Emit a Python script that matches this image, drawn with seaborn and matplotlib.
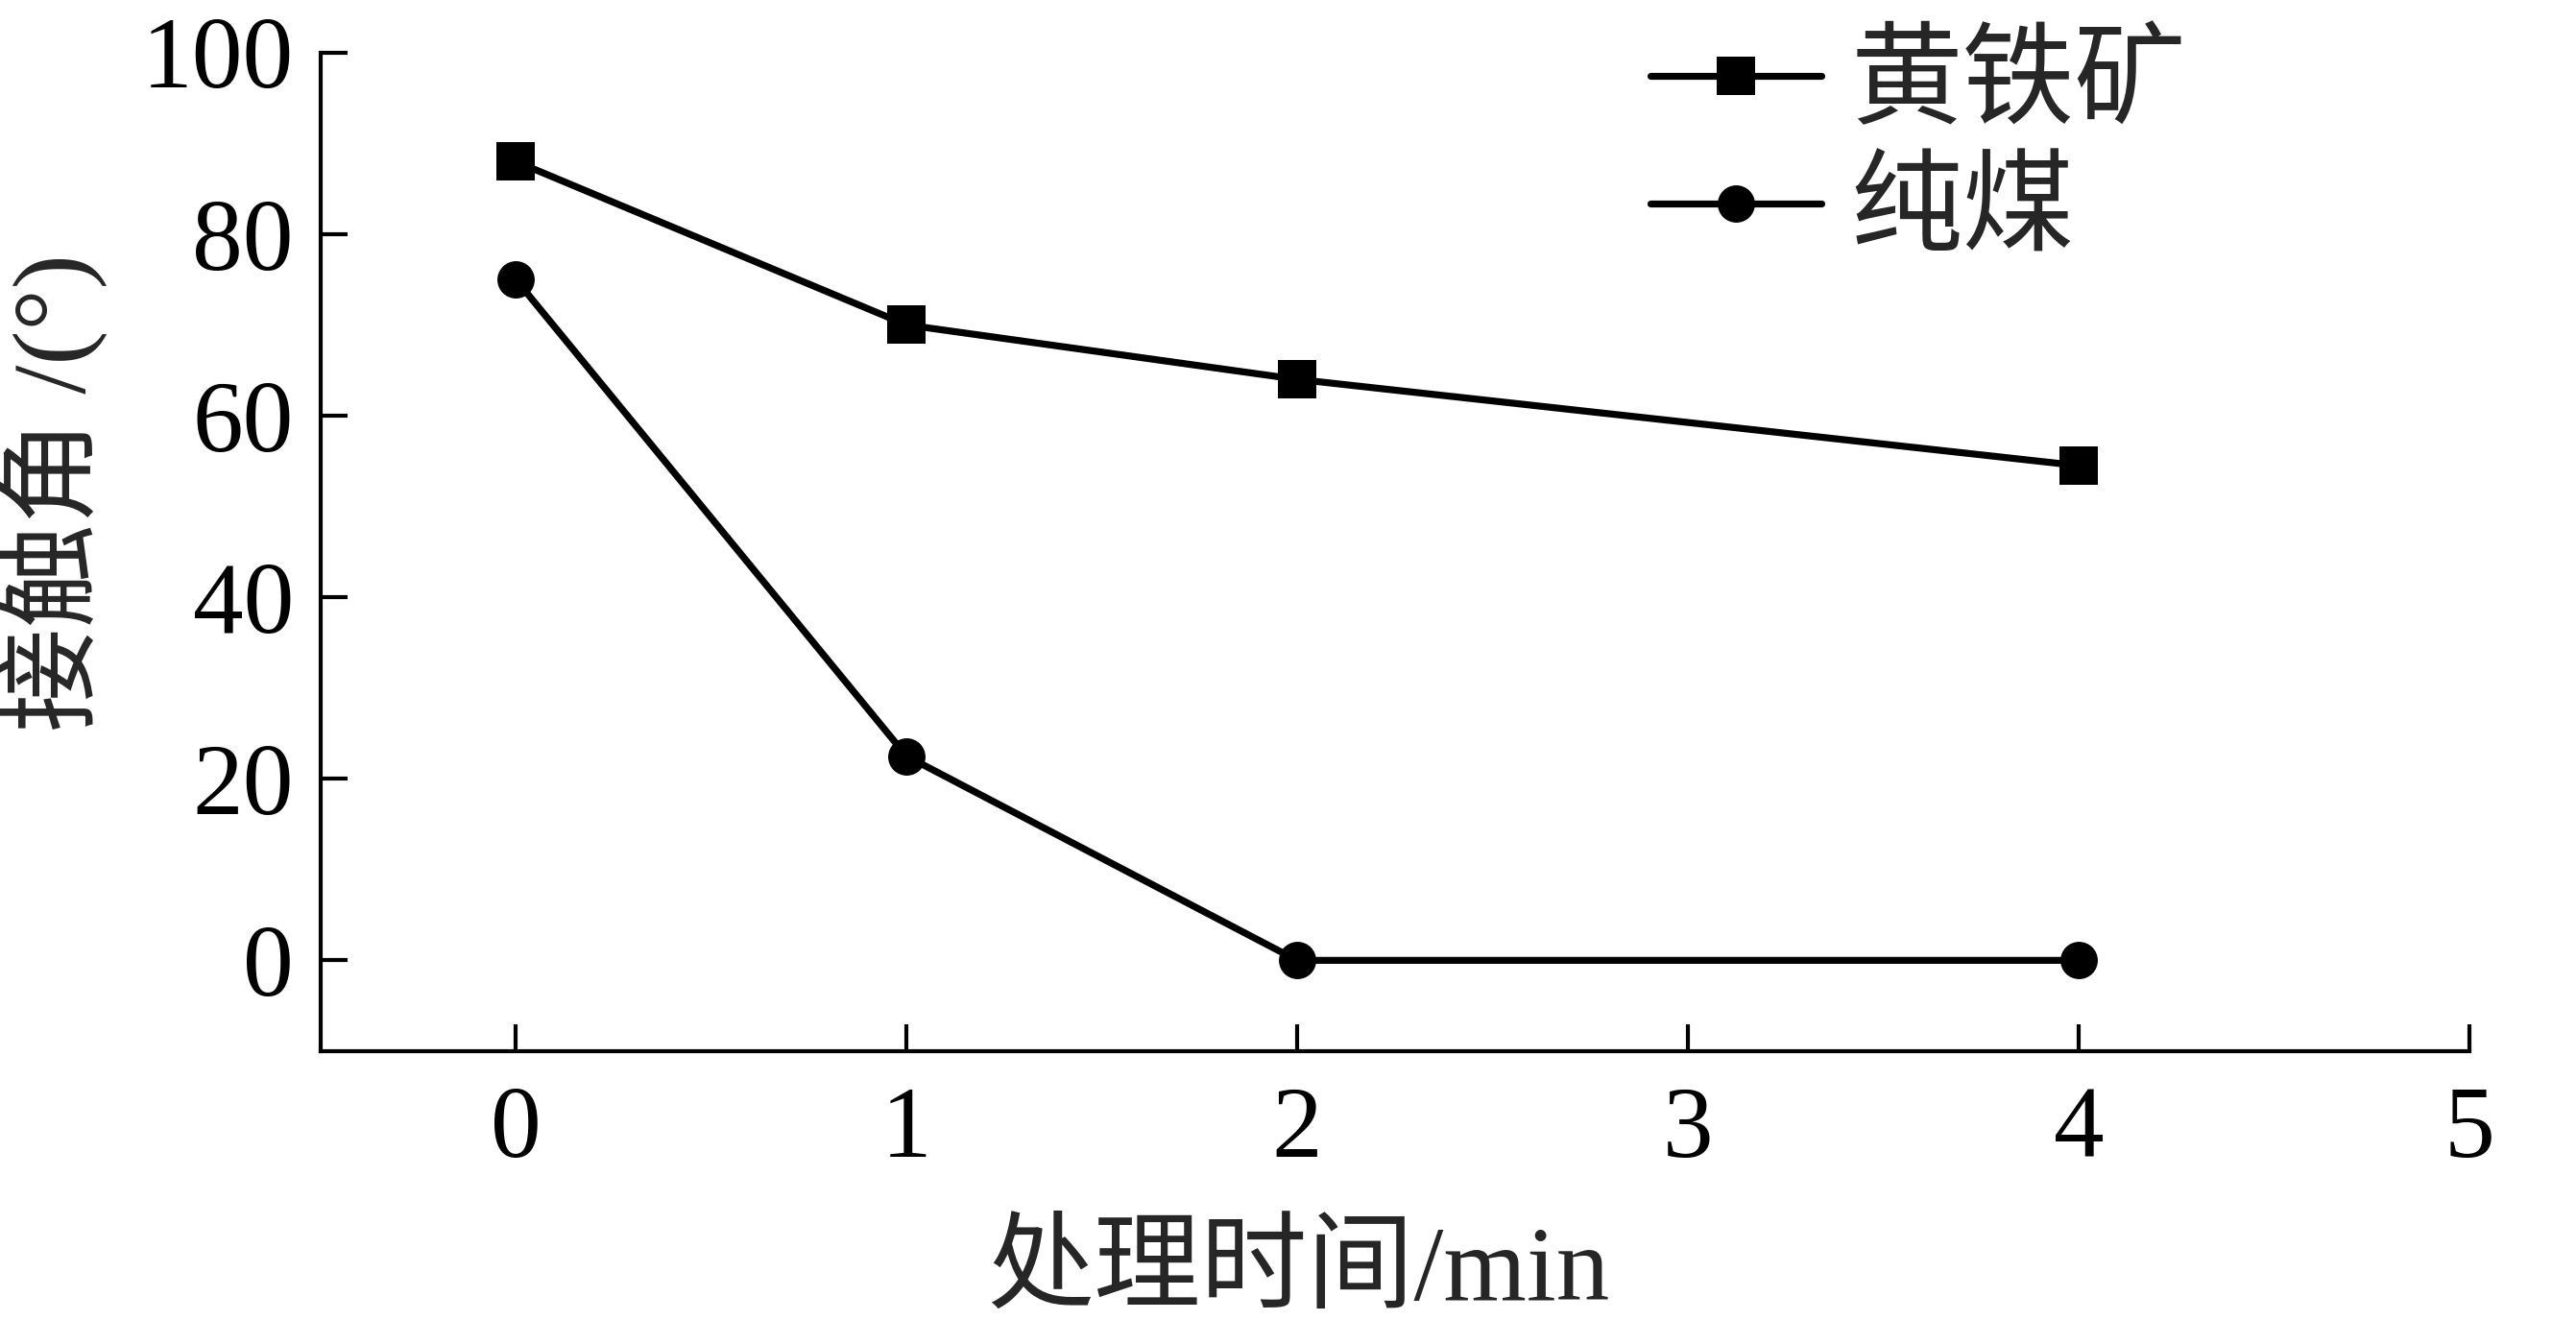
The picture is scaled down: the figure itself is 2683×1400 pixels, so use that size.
import matplotlib
matplotlib.use("Agg")
import matplotlib.pyplot as plt
import pandas as pd
import seaborn as sns

# data
times = [0, 1, 2, 4]
pyrite = [88, 70, 64, 54.5]
coal = [75, 22.5, 0, 0]
series_names = ["黄铁矿", "纯煤"]
series_markers = ["s", "o"]
x_ticks = [0, 1, 2, 3, 4, 5]
y_ticks = [0, 20, 40, 60, 80, 100]

sns.set_style("ticks")
plt.rcParams["font.family"] = ["Liberation Serif", "Noto Sans CJK SC", "DejaVu Sans"]

df = pd.DataFrame({"time": times * 2,
                   "angle": pyrite + coal,
                   "sample": [series_names[0]] * len(times) + [series_names[1]] * len(times)})

fig = plt.figure(figsize=(26.83, 14), dpi=100)
ax = fig.add_axes([0.1244, 0.2179, 0.9586 - 0.1244, 0.9609 - 0.2179])

for name, mk in zip(series_names, series_markers):
    sub = df[df["sample"] == name]
    sns.lineplot(data=sub, x="time", y="angle", ax=ax, color="black", linewidth=5.2,
                 marker=mk, markersize=29.5 if mk == "s" else 28, markeredgewidth=0,
                 solid_capstyle="round", label=name)

ax.set_xlim(-0.5, 5)
ax.set_ylim(-10, 100)
ax.set_xticks(x_ticks)
ax.set_yticks(y_ticks)
sns.despine(ax=ax)
for side in ["left", "bottom"]:
    ax.spines[side].set_linewidth(3.0)
    ax.spines[side].set_color("black")
ax.tick_params(direction="in", length=20, width=3.0, colors="black", labelsize=76)
ax.tick_params(axis="x", pad=26)
ax.tick_params(axis="y", pad=20)

ax.set_xlabel("处理时间/min", fontsize=80, labelpad=34)
ax.xaxis.label.set_x(0.455)
ax.set_ylabel("接触角 /(°)", fontsize=78)
ax.yaxis.set_label_coords(-0.099, 0.559)

leg = ax.legend(loc="upper left", bbox_to_anchor=(0.598, 1.0625), frameon=False,
                fontsize=84, handlelength=1.53, handletextpad=0.26, labelspacing=0.22,
                borderaxespad=0)

fig.savefig("out.png", dpi=100)
